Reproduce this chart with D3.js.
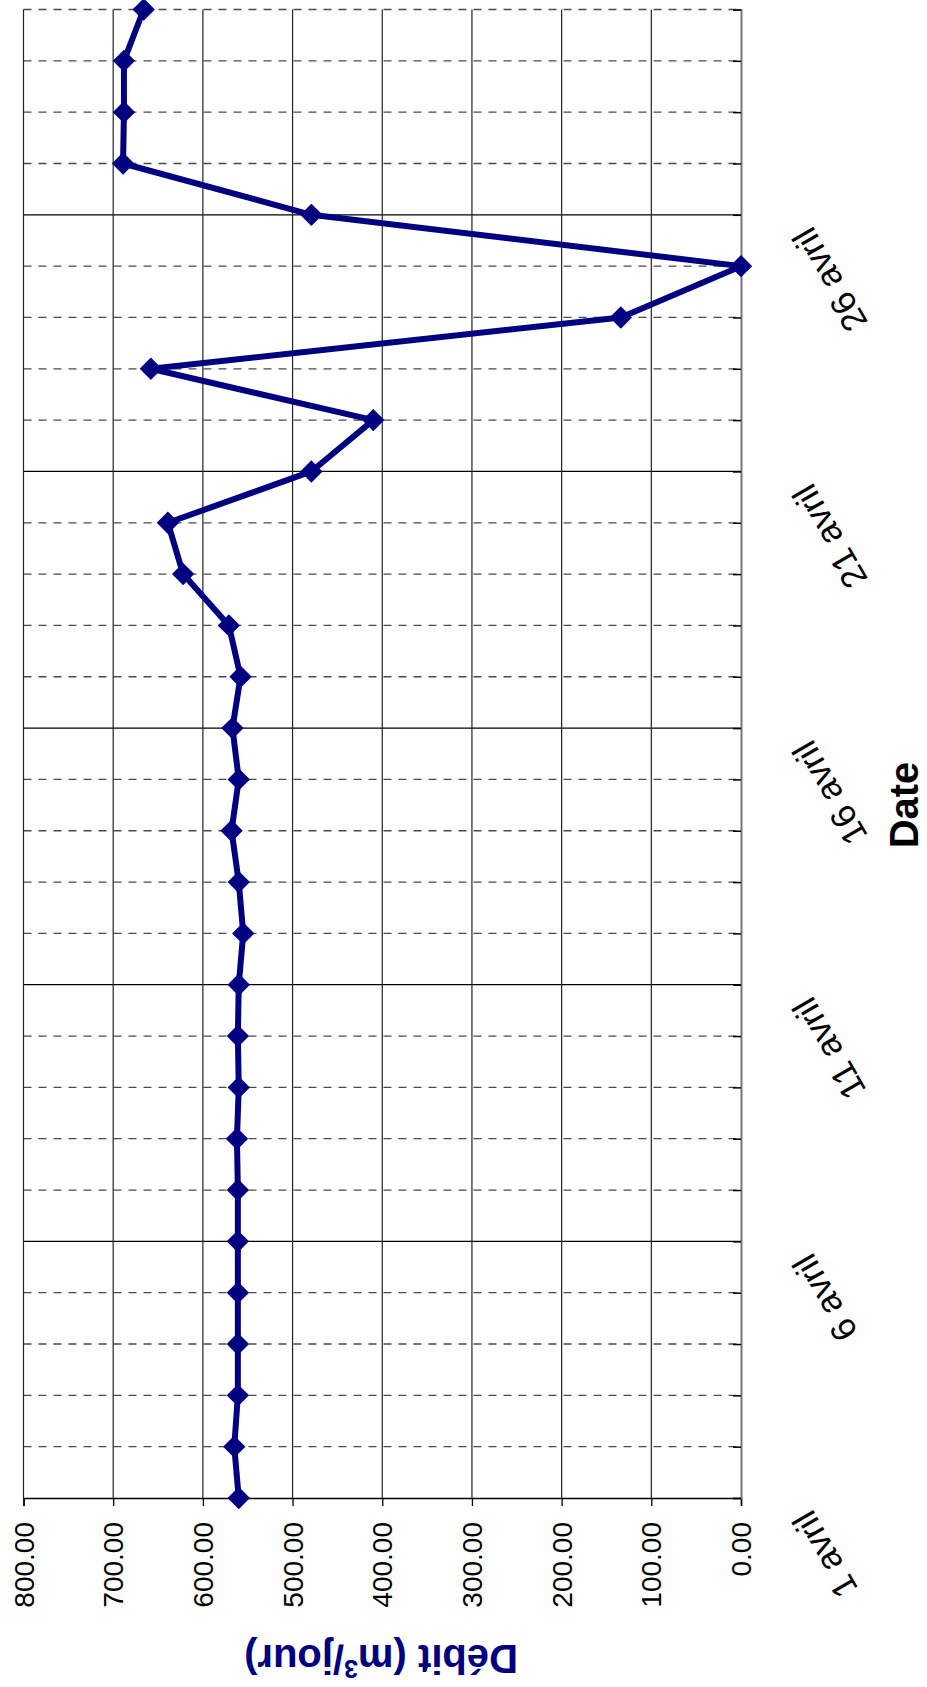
<!DOCTYPE html>
<html>
<head>
<meta charset="utf-8">
<script src="https://cdn.jsdelivr.net/npm/d3@7"></script>
<style>
html,body{margin:0;padding:0;background:#fff;}
svg{display:block;}
</style>
</head>
<body>
<svg id="chart" width="927" height="1687" font-family="'Liberation Sans', Arial, sans-serif"></svg>
<script>
// ---- data ----
const dates = ["1 avril","2 avril","3 avril","4 avril","5 avril","6 avril","7 avril","8 avril","9 avril","10 avril",
  "11 avril","12 avril","13 avril","14 avril","15 avril","16 avril","17 avril","18 avril","19 avril","20 avril",
  "21 avril","22 avril","23 avril","24 avril","25 avril","26 avril","27 avril","28 avril","29 avril","30 avril"];
const debit = [560,565,561,561,561,561,561,562,560,561,
  560,555,560,568,560,567,558,571,622,639,
  479,410,658,134,0,479,689,688,688,666];
const valueTicks = [0,100,200,300,400,500,600,700,800];
const labelledDates = ["1 avril","6 avril","11 avril","16 avril","21 avril","26 avril"];
const yTitle = "Débit (m";
const yTitleSup = "3";
const yTitleEnd = "/jour)";
const xTitle = "Date";

// ---- layout (chart drawn rotated 90° counter-clockwise) ----
const svg = d3.select("#chart");
const plotLeft = 23.5, plotRight = 741, plotTop = 9.5, plotBottom = 1498;
const navy = "#000080";

const x = d3.scaleLinear().domain([0, 800]).range([plotRight, plotLeft]);
const y = d3.scalePoint().domain(dates).range([plotBottom, plotTop]);

// minor (daily) dashed gridlines
svg.append("g").selectAll("line")
  .data(dates.filter((d,i) => i % 5 !== 0))
  .join("line")
  .attr("x1", plotLeft).attr("x2", plotRight)
  .attr("y1", d => y(d)).attr("y2", d => y(d))
  .attr("stroke", "#4a4a4a").attr("stroke-width", 1.3)
  .attr("stroke-dasharray", "8,7");

// major gridlines (every 5 days) solid
svg.append("g").selectAll("line")
  .data(dates.filter((d,i) => i % 5 === 0 && i > 0))
  .join("line")
  .attr("x1", plotLeft).attr("x2", plotRight)
  .attr("y1", d => y(d)).attr("y2", d => y(d))
  .attr("stroke", "#000").attr("stroke-width", 1.2);

// value gridlines
svg.append("g").selectAll("line")
  .data(valueTicks.filter(v => v > 0))
  .join("line")
  .attr("x1", d => x(d)).attr("x2", d => x(d))
  .attr("y1", plotTop).attr("y2", plotBottom)
  .attr("stroke", "#222").attr("stroke-width", 1.2);

// value axis (at bottom)
const vAxis = d3.axisBottom(x).tickValues(valueTicks).tickSize(8).tickFormat("");
const vg = svg.append("g").attr("transform", `translate(0,${plotBottom})`).call(vAxis);
vg.select(".domain").attr("stroke", "#000").attr("stroke-width", 1.5);
vg.selectAll(".tick line").attr("stroke", "#000").attr("stroke-width", 1.3);

svg.append("g").selectAll("text")
  .data(valueTicks)
  .join("text")
  .attr("x", d => x(d)).attr("y", 1522)
  .attr("dy", "0.36em")
  .attr("text-anchor", "end")
  .attr("transform", d => `rotate(-90,${x(d)},1522)`)
  .attr("font-size", 28)
  .attr("fill", "#000")
  .text(d => d3.format(".2f")(d));

// date axis (at right)
const dAxis = d3.axisRight(y).tickSize(-8).tickFormat("");
const dg = svg.append("g").attr("transform", `translate(${plotRight},0)`).call(dAxis);
dg.select(".domain").attr("stroke", "#777").attr("stroke-width", 2);
dg.selectAll(".tick line").attr("stroke", "#000").attr("stroke-width", 1.5);

svg.append("g").selectAll("text")
  .data(labelledDates)
  .join("text")
  .attr("x", 812).attr("y", d => y(d) + 10)
  .attr("text-anchor", "end")
  .attr("transform", d => `rotate(-120,812,${y(d) + 10})`)
  .attr("font-size", 35)
  .attr("fill", "#000")
  .text(d => d);

// line
const line = d3.line().x(d => x(d.v)).y(d => y(d.d));
const pts = dates.map((d,i) => ({d, v: debit[i]}));
svg.append("path")
  .datum(pts)
  .attr("d", line)
  .attr("fill", "none")
  .attr("stroke", navy)
  .attr("stroke-width", 6)
  .attr("stroke-linejoin", "round");

// diamond markers
const diamond = d3.symbol().type(d3.symbolSquare).size(250);
svg.append("g").selectAll("path")
  .data(pts)
  .join("path")
  .attr("d", diamond)
  .attr("transform", d => `translate(${x(d.v)},${y(d.d)}) rotate(45)`)
  .attr("fill", navy);

// y title (upside down)
const t = svg.append("text")
  .attr("x", 381).attr("y", 1645)
  .attr("text-anchor", "middle")
  .attr("transform", "rotate(180,381,1645)")
  .attr("font-size", 40).attr("font-weight", "bold")
  .attr("fill", navy);
t.append("tspan").text(yTitle);
t.append("tspan").attr("font-size", 25).attr("dy", -15).text(yTitleSup);
t.append("tspan").attr("dy", 15).text(yTitleEnd);

// x title
svg.append("text")
  .attr("x", 918).attr("y", 805)
  .attr("text-anchor", "middle")
  .attr("transform", "rotate(-90,918,805)")
  .attr("font-size", 40).attr("font-weight", "bold")
  .attr("fill", "#000")
  .text(xTitle);
</script>
</body>
</html>
